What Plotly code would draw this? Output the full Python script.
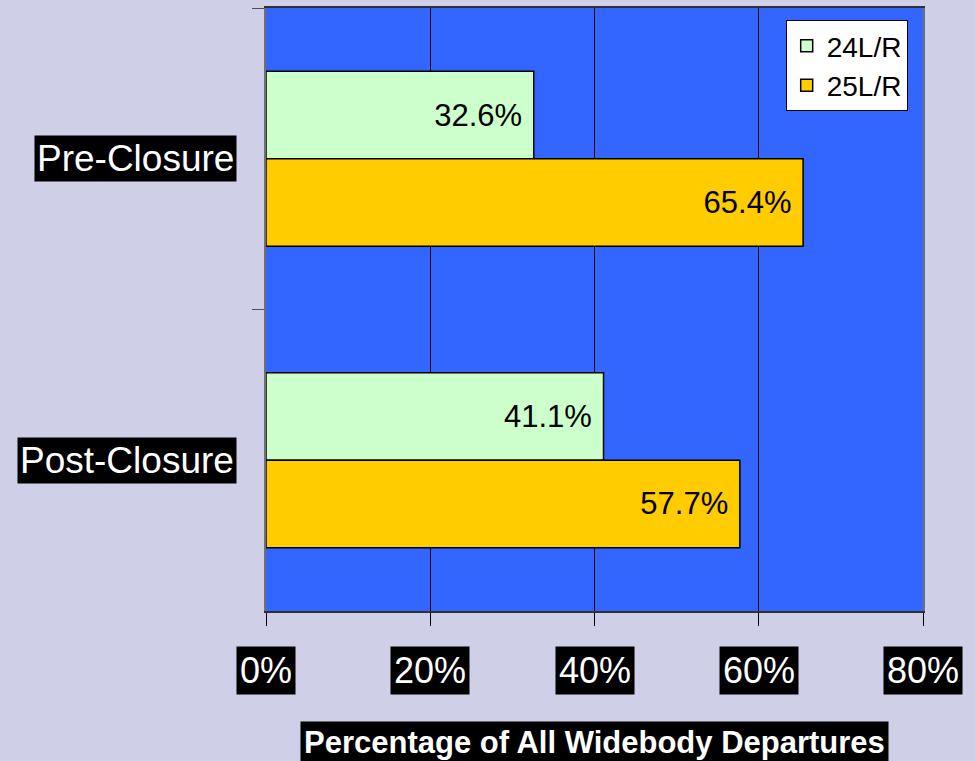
import plotly.graph_objects as go

categories = ["Pre-Closure", "Post-Closure"]
series_names = ["24L/R", "25L/R"]
values_24 = [32.6, 41.1]
values_25 = [65.4, 57.7]
x_tick_vals = [0, 20, 40, 60, 80]
x_tick_labels = ["0%", "20%", "40%", "60%", "80%"]
x_title = "Percentage of All Widebody Departures"

colors = ["#CCFFCC", "#FFCC00"]
FONT = "Liberation Sans, Arial, sans-serif"

fig = go.Figure()
for name, vals, col in zip(series_names, [values_24, values_25], colors):
    fig.add_trace(go.Bar(
        y=categories, x=vals, name=name, orientation="h",
        marker=dict(color=col, line=dict(color="black", width=1.5)),
        texttemplate="%{x:.1f}%\u00a0", textposition="inside",
        insidetextanchor="end", textangle=0,
        textfont=dict(family=FONT, size=31, color="black"),
        legendgroup=name,
    ))

annotations = []
for cat in categories:
    annotations.append(dict(
        x=0, xref="paper", y=cat, yref="y", xanchor="right", yanchor="middle",
        xshift=-29, text=cat, showarrow=False, bgcolor="black", borderpad=2,
        font=dict(family=FONT, size=37, color="white"),
    ))
for v, lab in zip(x_tick_vals, x_tick_labels):
    annotations.append(dict(
        x=v, xref="x", y=0, yref="paper", xanchor="center", yanchor="top",
        yshift=-35, text=lab, showarrow=False, bgcolor="black", borderpad=3,
        font=dict(family=FONT, size=36, color="white"),
    ))
annotations.append(dict(
    x=0.5, xref="paper", y=0, yref="paper", xanchor="center", yanchor="top",
    yshift=-110, text="<b>" + x_title + "</b>", showarrow=False,
    bgcolor="black", borderpad=3,
    font=dict(family=FONT, size=31, color="white"),
))

fig.update_layout(
    width=975, height=761,
    margin=dict(l=266, r=52, t=6, b=150),
    paper_bgcolor="#cfd0e8",
    plot_bgcolor="#3366FF",
    barmode="group", bargap=0.42, bargroupgap=0,
    showlegend=True,
    legend=dict(
        x=0.791, y=0.98, xanchor="left", yanchor="top",
        bgcolor="white", bordercolor="black", borderwidth=1,
        font=dict(family=FONT, size=28, color="black"),
        traceorder="normal", tracegroupgap=4, itemwidth=30,
    ),
    xaxis=dict(
        range=[0, 80], tickvals=x_tick_vals, showticklabels=False,
        ticks="outside", ticklen=13, tickcolor="black", tickwidth=1,
        showgrid=True, gridcolor="black", gridwidth=1,
        showline=True, linecolor="#303030", linewidth=1.5, mirror=True,
        zeroline=False, fixedrange=True,
    ),
    yaxis=dict(
        type="category", categoryorder="array", categoryarray=categories,
        autorange="reversed", showticklabels=False,
        ticks="outside", tickson="boundaries", ticklen=12,
        tickcolor="#505050", tickwidth=1,
        showgrid=False, showline=True, linecolor="#707070", linewidth=2,
        mirror=True, zeroline=False,
    ),
    annotations=annotations,
)

fig.write_html("out.html", config={"displayModeBar": False},
               post_script="document.body.style.margin='0px';")
